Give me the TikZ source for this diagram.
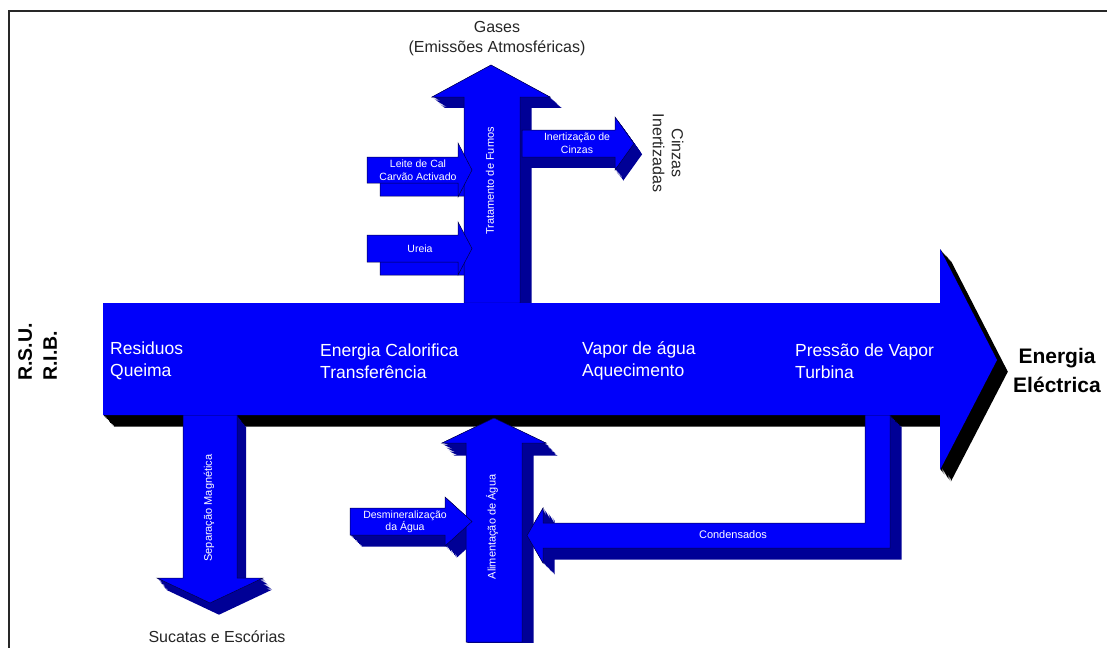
\documentclass[tikz,border=0pt]{standalone}
\usepackage{fontspec}
\setmainfont{Liberation Sans}
\definecolor{arrowblue}{RGB}{0,0,250}
\definecolor{sideblue}{RGB}{0,0,150}
\definecolor{edgeblue}{RGB}{0,0,70}
\definecolor{framegray}{RGB}{40,40,40}
\newcommand{\ExtrudeShape}[4]{\foreach \s in {0,0.1,...,1.0}{\fill[#1,shift={(#2*\s,#3*\s)}] #4;}}
\newcommand{\PathMain}{(103,303) -- (940,303) -- (940,249) -- (997,360) -- (940,470) -- (940,415) -- (103,415) -- cycle}
\newcommand{\PathTrat}{(464,303) -- (464,97) -- (432,97) -- (491,65) -- (550,97) -- (520,97) -- (520,303) -- cycle}
\newcommand{\PathLeite}{(367,157) -- (458,157) -- (458,143) -- (472,170) -- (458,197) -- (458,183) -- (367,183) -- cycle}
\newcommand{\PathUreia}{(367,235) -- (458,235) -- (458,222) -- (472,248.5) -- (458,275) -- (458,262) -- (367,262) -- cycle}
\newcommand{\PathInert}{(522,130) -- (615,130) -- (615,117) -- (634,143.5) -- (615,170) -- (615,157) -- (522,157) -- cycle}
\newcommand{\PathSep}{(183,415) -- (237,415) -- (237,578) -- (263,578) -- (210,603) -- (157,578) -- (183,578) -- cycle}
\newcommand{\PathAlim}{(466,642) -- (466,443) -- (442,443) -- (494,418) -- (546,443) -- (522,443) -- (522,642) -- cycle}
\newcommand{\PathDesmin}{(350,508) -- (445,508) -- (445,497) -- (472,521.5) -- (445,546) -- (445,535) -- (350,535) -- cycle}
\newcommand{\PathCond}{(865,415) -- (890,415) -- (890,548) -- (543,548) -- (543,563) -- (527,535.5) -- (543,508) -- (543,523) -- (865,523) -- cycle}
\tikzset{
  frontface/.style={fill=arrowblue},
  frontline/.style={fill=arrowblue, draw=edgeblue, line width=0.5pt},
  backcopy/.style={fill=arrowblue, draw=edgeblue, line width=0.5pt},
  sideface/.style={fill=sideblue},
  shadowface/.style={fill=black},
  frameline/.style={draw=framegray, line width=2pt},
  mainlbl/.style={text=white, inner sep=0pt, align=left, anchor=west, font=\fontsize{17.5}{21.5}\selectfont},
  smalllbl/.style={text=white, inner sep=0pt, align=center, font=\fontsize{10.5}{13}\selectfont},
  outlbl/.style={text=black!85, inner sep=0pt, align=center, font=\fontsize{16}{20}\selectfont},
}
\begin{document}
\begin{tikzpicture}[x=1pt,y=-1pt]
\useasboundingbox (0,0) rectangle (1107,648);
\fill[white] (0,0) rectangle (1107,648);
\draw[frameline] (1107,11) -- (9,11) -- (9,648);
% main arrow shadow
\ExtrudeShape{shadowface}{12}{13}{\PathMain}
% Leite / Ureia back copies
\path[backcopy, shift={(13,13)}] \PathLeite;
\path[backcopy, shift={(13,13)}] \PathUreia;
% Tratamento de Fumos
\ExtrudeShape{sideface}{13}{12}{\PathTrat}
\path[frontline] \PathTrat;
\path[frontline] \PathLeite;
\path[frontline] \PathUreia;
% Inertizacao
\ExtrudeShape{sideface}{9}{12}{\PathInert}
\path[frontline] \PathInert;
% Separacao
\ExtrudeShape{sideface}{10}{13}{\PathSep}
\path[frontline] \PathSep;
% Desmineralizacao extrusion
\ExtrudeShape{sideface}{13}{13}{\PathDesmin}
% Alimentacao
\begin{scope}
\clip (0,0) rectangle (1107,642);
\ExtrudeShape{sideface}{13}{14}{\PathAlim}
\end{scope}
\path[frontline] \PathAlim;
\path[frontline] \PathDesmin;
% Condensados
\ExtrudeShape{sideface}{13}{13}{\PathCond}
\path[frontline] \PathCond;
% main arrow front
\path[frontface] \PathMain;
% texts
\node[mainlbl] (residuos) at (110,361) {Residuos\\Queima};
\node[mainlbl] (energia) at (320,361) {Energia Calorifica\\Transferência};
\node[mainlbl] (vapor) at (582,361) {Vapor de água\\Aquecimento};
\node[mainlbl] (pressao) at (795,361) {Pressão de Vapor\\Turbina};
\node[text=black, inner sep=0pt, align=left, rotate=90, font=\bfseries\fontsize{19.5}{25}\selectfont] (rsu) at (37.5,352) {R.S.U.\\R.I.B.};
\node[text=black, inner sep=0pt, align=center, font=\bfseries\fontsize{21}{29}\selectfont] (eletrica) at (1057,370) {Energia\\Eléctrica};
\node[outlbl] (gases) at (497,39) {Gases\\(Emissões Atmosféricas)};
\node[outlbl, font=\fontsize{16}{19}\selectfont, rotate=-90] (cinzas) at (668,153) {Cinzas\\Inertizadas};
\node[outlbl] (sucatas) at (217,637) {Sucatas e Escórias};
\node[smalllbl, rotate=90, font=\fontsize{11}{13}\selectfont] (tratamento) at (490,181) {Tratamento de Fumos};
\node[smalllbl, rotate=90, font=\fontsize{11}{13}\selectfont] (alimentacao) at (492,527) {Alimentação de Água};
\node[smalllbl, rotate=90, font=\fontsize{11}{13}\selectfont] (separacao) at (209,508) {Separação Magnética};
\node[smalllbl, font=\fontsize{11}{13}\selectfont] (condensados) at (733,535) {Condensados};
\node[smalllbl] (leite) at (418,170) {Leite de Cal\\Carvão Activado};
\node[smalllbl] (ureia) at (420,248.5) {Ureia};
\node[smalllbl] (inertizacao) at (577,143.5) {Inertização de\\Cinzas};
\node[smalllbl, font=\fontsize{10.5}{12}\selectfont] (desmin) at (405,522) {Desmineralização\\da Água};
\end{tikzpicture}
\end{document}
